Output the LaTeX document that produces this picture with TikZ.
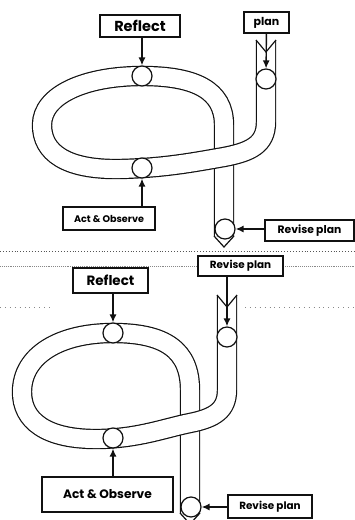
\documentclass[tikz,border=0pt]{standalone}
\usepackage{fontspec}
\setmainfont{Poppins}
\usepackage{tikz}
\usetikzlibrary{arrows.meta,positioning,calc}
\definecolor{ink}{HTML}{111111}
\definecolor{scan}{HTML}{555555}
\begin{document}
\begin{tikzpicture}[x=1pt,y=-1pt,>={Latex[length=8pt,width=7pt]}]
\tikzset{rib/.style={draw=ink,line width=1.2pt,double=white,double distance=18pt},
  tip/.style={draw=ink,line width=1.2pt,line join=miter},
  stop/.style={circle,draw=ink,fill=white,line width=1.2pt,minimum size=20pt,inner sep=0pt},
  lbl/.style={draw=ink,fill=white,line width=1.2pt,inner sep=0pt},
  feed/.style={->,draw=ink,line width=1.4pt},
  rule/.style={draw=scan,line width=0.9pt}}
\newcommand{\lblfont}[1]{\bfseries\fontsize{#1}{#1}\selectfont}
\useasboundingbox (0,0) rectangle (354,520);
\fill[white] (0,0) rectangle (354,520);
\draw[rule,dotted] (0,251) -- (354,251);
\draw[rule,densely dotted,draw=scan!70] (0,266) -- (354,266);
\draw[rule,loosely dotted,draw=scan!70] (0,307) -- (50,307);
\draw[rule,loosely dotted,draw=scan!70] (245,307) -- (354,307);
\draw[rib] (142,76) .. controls (195,76) and (224,90) .. (224,125) -- (224,236);
\draw[rib] (266,40) -- (266,122) .. controls (266,145) and (250,152) .. (224,157) .. controls (195,162) and (165,168) .. (120,169) .. controls (65,170) and (42,152) .. (42,125) .. controls (42,95) and (85,76) .. (142,76);
\draw[tip] (256,40) -- (266,52) -- (276,40);
\draw[tip] (214,236) -- (224,247) -- (234,236);
\node[stop] (refA) at (142,76) {};
\node[stop] (plnA) at (266,79) {};
\node[stop] (obsA) at (142,168) {};
\node[stop] (revA) at (225,229) {};
\node[lbl,minimum width=80pt,minimum height=22pt,font=\lblfont{14.5}] (reflectA) at (140,26) {Reflect};
\node[lbl,minimum width=45pt,minimum height=21pt,font=\lblfont{11}] (planA) at (266.5,22.5) {plan};
\node[lbl,minimum width=92pt,minimum height=23pt,font=\lblfont{9.6}] (actA) at (109,218.5) {Act \& Observe};
\node[lbl,minimum width=89pt,minimum height=21pt,font=\lblfont{10.8}] (reviseA) at (309.5,230.5) {Revise plan};
\draw[feed] (reflectA.south -| refA) -- (refA);
\draw[feed] (planA) -- (plnA);
\draw[feed] (actA.north -| obsA) -- (obsA);
\draw[feed] (reviseA.west |- revA) -- (revA);
\draw[rib] (113,333) .. controls (165,333) and (190,350) .. (190,390) -- (190,513);
\draw[rib] (227,295) -- (227,390) .. controls (227,410) and (215,418) .. (190,423) .. controls (165,428) and (140,438) .. (100,439) .. controls (45,440) and (22,420) .. (22,392) .. controls (22,355) and (60,333) .. (113,333);
\draw[tip] (217,295) -- (227,307) -- (237,295);
\draw[tip] (180,513) -- (190,524) -- (200,513);
\node[stop] (refB) at (113,333) {};
\node[stop] (plnB) at (227,337) {};
\node[stop] (obsB) at (113,438) {};
\node[stop] (revB) at (191,507) {};
\node[lbl,minimum width=75pt,minimum height=25pt,font=\lblfont{13.5}] (reflectB) at (110.5,280.5) {Reflect};
\node[lbl,minimum width=85pt,minimum height=20pt,font=\lblfont{10.4}] (reviseB) at (240.5,266) {Revise plan};
\node[lbl,minimum width=131pt,minimum height=35pt,font=\lblfont{12.2}] (actB) at (107.5,494.5) {Act \& Observe};
\node[lbl,minimum width=84pt,minimum height=23pt,font=\lblfont{10.4}] (reviseC) at (270,506.5) {Revise plan};
\draw[feed] (reflectB.south -| refB) -- (refB);
\draw[feed] (reviseB.south -| plnB) -- (plnB);
\draw[feed] (actB.north -| obsB) -- (obsB);
\draw[feed] (reviseC.west |- revB) -- (revB);
\end{tikzpicture}
\end{document}
